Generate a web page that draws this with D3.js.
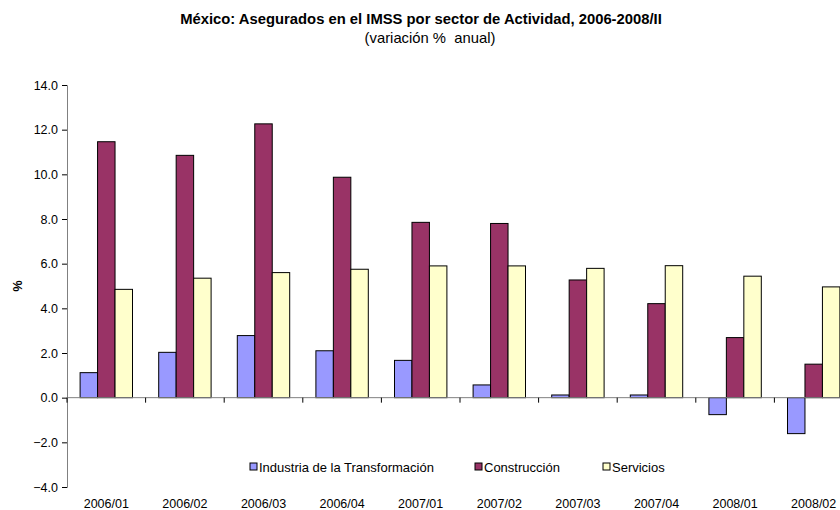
<!DOCTYPE html>
<html><head><meta charset="utf-8">
<script src="https://cdn.jsdelivr.net/npm/d3@7"></script>
<style>
html,body{margin:0;padding:0;background:#fff;}
svg{display:block;font-family:"Liberation Sans",Arial,sans-serif;}
svg text{white-space:pre;}
</style></head>
<body>
<svg id="c" width="840" height="510"></svg>
<script>
const categories = ["2006/01","2006/02","2006/03","2006/04","2007/01","2007/02","2007/03","2007/04","2008/01","2008/02"];
const seriesNames = ["Industria de la Transformación","Construcción","Servicios"];
const industria    = [1.12, 2.03, 2.78, 2.10, 1.67, 0.57, 0.12, 0.12, -0.76, -1.61];
const construccion = [11.46, 10.85, 12.26, 9.87, 7.85, 7.80, 5.27, 4.21, 2.69, 1.50];
const servicios    = [4.85, 5.35, 5.60, 5.75, 5.90, 5.90, 5.79, 5.91, 5.44, 4.96];
const yTicks = [-4, -2, 0, 2, 4, 6, 8, 10, 12, 14];
const colors = ["#9999FF", "#993366", "#FFFFCC"];

const FONT = "'Liberation Sans', Arial, sans-serif";
const series = [industria, construccion, servicios];
const svg = d3.select("#c");
const mLeft = 67, mRight = 853, mTop = 85, mBottom = 487;

const x = d3.scaleBand().domain(categories).range([mLeft, mRight]).padding(0);
const groupW = x.bandwidth() / 1.5;
const xs = d3.scaleBand().domain(d3.range(series.length)).range([0, groupW]).padding(0);
const y = d3.scaleLinear().domain([-4, 14]).range([mBottom, mTop]);

// Title
svg.append("text").attr("x", 421).attr("y", 24).attr("text-anchor", "middle")
  .attr("font-family", FONT).attr("font-size", "14.8px").attr("font-weight", "bold")
  .text("México: Asegurados en el IMSS por sector de Actividad, 2006-2008/II");
svg.append("text").attr("x", 430).attr("y", 42.5).attr("text-anchor", "middle")
  .attr("font-family", FONT).attr("font-size", "14.8px")
  .text("(variación %  anual)");

// Y axis
const yAxis = svg.append("g").attr("transform", `translate(${mLeft},0)`)
  .call(d3.axisLeft(y).tickValues(yTicks).tickFormat(d3.format(".1f")).tickSize(5).tickPadding(4));
yAxis.select(".domain").attr("stroke", "#808080");
yAxis.selectAll(".tick line").attr("stroke", "#000");
yAxis.selectAll(".tick text").attr("font-size", "12.5px").attr("fill", "#000")
  .attr("font-family", FONT);

// Y label
svg.append("text").attr("transform", "translate(22,286) rotate(-90)")
  .attr("text-anchor", "middle").attr("font-family", FONT).attr("font-size", "12.5px").attr("font-weight", "bold")
  .text("%");

// Bars
const g = svg.append("g");
categories.forEach((cat, i) => {
  series.forEach((vals, s) => {
    const v = vals[i];
    const x0 = x(cat) + (x.bandwidth() - groupW) / 2 + xs(s);
    g.append("rect")
      .attr("x", x0).attr("width", xs.bandwidth())
      .attr("y", Math.min(y(v), y(0)))
      .attr("height", Math.abs(y(v) - y(0)))
      .attr("fill", colors[s]).attr("stroke", "#000").attr("stroke-width", 1);
  });
});

// X axis at zero with ticks at category boundaries
const xAxisG = svg.append("g");
xAxisG.append("line").attr("x1", mLeft).attr("x2", mRight).attr("y1", y(0)).attr("y2", y(0))
  .attr("stroke", "#808080").attr("stroke-width", 1);
categories.forEach(cat => {
  xAxisG.append("line").attr("x1", x(cat)).attr("x2", x(cat))
    .attr("y1", y(0)).attr("y2", y(0) + 5).attr("stroke", "#000");
});
// X labels at bottom
categories.forEach(cat => {
  svg.append("text").attr("x", x(cat) + x.bandwidth() / 2).attr("y", 508)
    .attr("text-anchor", "middle").attr("font-family", FONT).attr("font-size", "12.5px").text(cat);
});

// Legend
const legendX = [250, 475, 603];
seriesNames.forEach((name, s) => {
  const lg = svg.append("g").attr("transform", `translate(${legendX[s]},463)`);
  lg.append("rect").attr("x", 0).attr("y", 0).attr("width", 7).attr("height", 7)
    .attr("fill", colors[s]).attr("stroke", "#000").attr("stroke-width", 1);
  lg.append("text").attr("x", 9).attr("y", 8.5).attr("font-family", FONT).attr("font-size", "13px").text(name);
});
</script>
</body></html>
